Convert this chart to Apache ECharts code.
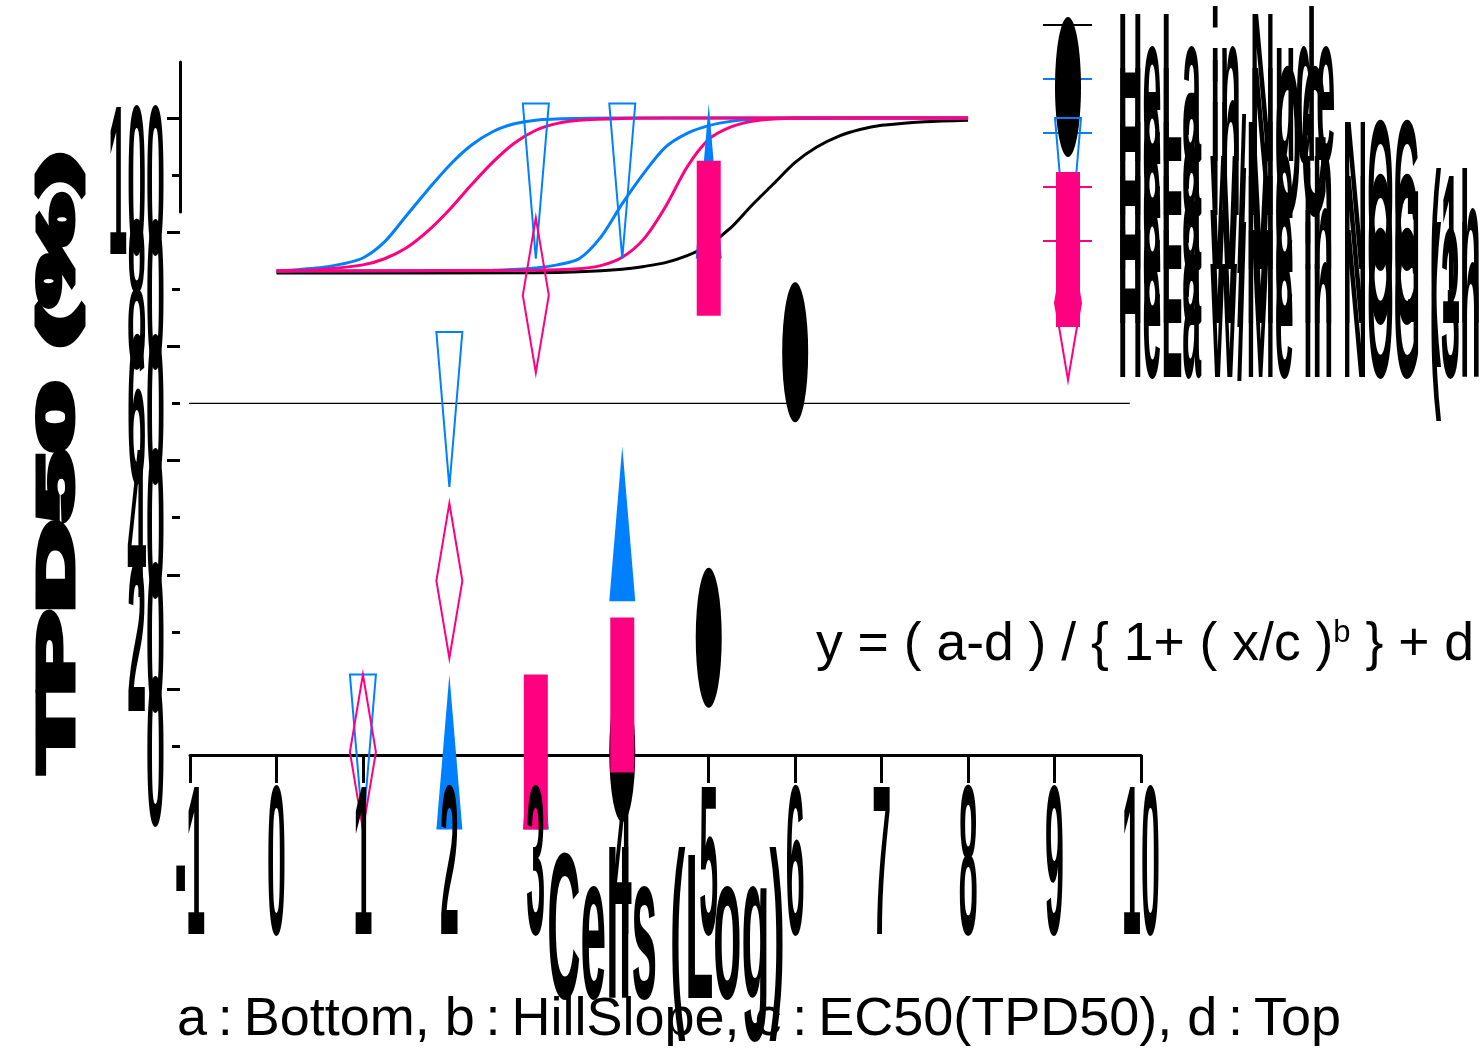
<!DOCTYPE html>
<html><head><meta charset="utf-8">
<script src="https://cdn.jsdelivr.net/npm/echarts@6/dist/echarts.min.js"></script>
<style>html,body{margin:0;padding:0;background:#fff}#c{width:1481px;height:1052px}</style>
</head><body><div id="c"></div>
<script>
// ---------- data ----------
const xTicks = [-1, 0, 1, 2, 3, 4, 5, 6, 7, 8, 9, 10];
const xTickLabels = ['-1', '0', '1', '2', '3', '4', '5', '6', '7', '8', '9', '10'];
const yTicks = [0, 20, 40, 60, 80, 100];
const yTickLabels = ['0', '20', '40', '60', '80', '100'];
const seriesNames = ['HeLa in Nude', 'HeLa in NOG', 'HeLa w/Me in NOG', 'HeLa w/Me in NOG (1hr)', 'HeLa w/Me in NOG (3hr)'];

// observed points (x = log cells, y = %)
const ptsCircle   = [[4, 0], [5, 20], [6, 70]];
const ptsUpTri    = [[2, 0], [3, 0], [4, 40], [5, 100]];
const ptsDownTri  = [[1, 0], [2, 60], [3, 100], [4, 100]];
const ptsSquare   = [[3, 0], [4, 10], [5, 90]];
const ptsDiamond  = [[1, 0], [2, 30], [3, 80]];

// fitted curves (x, %)
const fitCircle = [[0,-1.3],[3,-1.1],[3.5,-0.5],[4,1.2],[4.25,3],[4.5,5.5],[4.75,10],[5,17],[5.25,28],[5.5,43],[5.75,57],[6,71],[6.25,81],[6.5,88],[6.75,92.5],[7,95.2],[7.5,97.6],[8,98.6]];
const fitUpTri = [[0,0],[2.5,0.5],[3,2],[3.25,4],[3.5,8],[3.75,22],[4,44],[4.25,64],[4.5,81],[4.75,90],[5,95],[5.25,97.8],[5.5,99.2],[6,100],[8,100]];
const fitDownTri = [[0,0],[0.5,2.2],[0.75,4.5],[1,8.5],[1.25,19],[1.5,36],[1.75,53],[2,69],[2.25,82],[2.5,91],[2.75,96.2],[3,98.6],[3.5,99.7],[4,100],[8,100]];
const fitSquare = [[0,0],[3,0.5],[3.5,1.5],[3.75,3.5],[4,9],[4.25,21],[4.5,42],[4.75,68],[5,86],[5.25,94],[5.5,97.8],[5.75,99.3],[6,99.8],[8,100]];
const fitDiamond = [[0,0],[0.5,1],[1,4],[1.25,8],[1.5,15],[1.75,26],[2,40],[2.25,56],[2.5,71],[2.75,83.5],[3,92],[3.25,96.5],[3.5,98.5],[4,99.7],[4.5,100],[8,100]];

const refLine = [[-1.11, 60], [9.87, 60]];

const yTitle = 'TPD50 (%)';
const xTitle = 'Cells (Log)';
const formulaMain = 'y = ( a-d ) / { 1+ ( x/c )';
const formulaSup = 'b';
const formulaTail = ' } + d';
const paramText = 'a\u2009:\u2009Bottom, b\u2009:\u2009HillSlope, c\u2009:\u2009EC50(TPD50), d\u2009:\u2009Top';

// ---------- style ----------
const BLACK = '#000000', BLUE = '#0080FF', PINK = '#FF0080';
const FONT = '"Liberation Sans", Arial, sans-serif';
const SY = 6.3;
const MW = 13, MH = 77.5, MOFF = 6;   // marker half-width, half-height, vertical offset (px)

const chart = echarts.init(document.getElementById('c'), null, {renderer: 'canvas'});

const G = {left: 190, width: 951};
const hiddenX = (gi) => ({gridIndex: gi, type: 'value', min: -1, max: 10, interval: 1, show: false});

function xLabelItem(params, api) {
  const p = api.coord([api.value(0), api.value(1)]);
  return {type: 'text', x: p[0], y: p[1] + 129, scaleY: SY,
    style: {text: xTickLabels[params.dataIndex], font: 'bold 34px ' + FONT, fill: BLACK, align: 'center', verticalAlign: 'middle'}};
}
function yLabelItem(params, api) {
  const p = api.coord([api.value(0), api.value(1)]);
  return {type: 'text', x: p[0] - 25, y: p[1] + 20, scaleY: SY,
    style: {text: yTickLabels[params.dataIndex], font: 'bold 34px ' + FONT, fill: BLACK, align: 'right', verticalAlign: 'middle'}};
}
function downTriItem(params, api) {
  const p = api.coord([api.value(0), api.value(1)]);
  const cx = p[0], cy = p[1] + MOFF;
  return {type: 'polygon', shape: {points: [[cx - MW, cy - MH], [cx + MW, cy - MH], [cx, cy + MH]]},
    style: {fill: 'none', stroke: BLUE, lineWidth: 2, lineJoin: 'miter'}};
}
function diamondItem(params, api) {
  const p = api.coord([api.value(0), api.value(1)]);
  const cx = p[0], cy = p[1] + MOFF;
  return {type: 'polygon', shape: {points: [[cx, cy - MH], [cx + MW, cy], [cx, cy + MH], [cx - MW, cy]]},
    style: {fill: 'none', stroke: PINK, lineWidth: 2, lineJoin: 'miter'}};
}

const curveSeries = (data, color) => ({type: 'line', xAxisIndex: 1, yAxisIndex: 1, data, smooth: 0.3,
  showSymbol: false, symbol: 'none', clip: false, lineStyle: {color, width: 3}, z: 2, silent: true});

const scat = (name, data, symbol, size, color) => ({name, type: 'scatter', xAxisIndex: 0, yAxisIndex: 0, data,
  symbol, symbolSize: size, symbolOffset: [0, MOFF], itemStyle: {color, opacity: 1}, z: 5, silent: true,
  emphasis: {disabled: true}});
const openSeries = (name, data, renderItem) => ({name, type: 'custom', xAxisIndex: 0, yAxisIndex: 0, data, renderItem, z: 5, silent: true, clip: false});

const series = [
  {type: 'line', xAxisIndex: 0, yAxisIndex: 0, data: refLine, symbol: 'none', clip: false,
    lineStyle: {color: BLACK, width: 1.2}, z: 1, silent: true},
  curveSeries(fitCircle, BLACK),
  curveSeries(fitUpTri, BLUE),
  curveSeries(fitDownTri, BLUE),
  curveSeries(fitDiamond, PINK),
  curveSeries(fitSquare, PINK),
  scat(seriesNames[0], ptsCircle, 'circle', [26, 140], BLACK),
  scat(seriesNames[1], ptsUpTri, 'triangle', [26, 155], BLUE),
  openSeries(seriesNames[2], ptsDownTri, downTriItem),
  scat(seriesNames[3], ptsSquare, 'rect', [24, 155], PINK),
  openSeries(seriesNames[4], ptsDiamond, diamondItem),
  {type: 'custom', xAxisIndex: 0, yAxisIndex: 0, data: xTicks.map(v => [v, 0]), renderItem: xLabelItem, z: 6, silent: true, clip: false},
  {type: 'custom', xAxisIndex: 0, yAxisIndex: 0, data: yTicks.map(v => [-1, v]), renderItem: yLabelItem, z: 6, silent: true, clip: false}
];

// legend (layout only)
const legendColors = [BLACK, BLUE, BLUE, PINK, PINK];
const graphic = [];
for (let k = 0; k < 5; k++) {
  const ly = 25 + 54 * k;
  graphic.push({type: 'line', shape: {x1: 1043, y1: ly, x2: 1092, y2: ly}, style: {stroke: legendColors[k], lineWidth: 2.2}, z: 10});
}
const mcx = 1068;
const mcy = (k) => 25 + 54 * k + 62;
graphic.push({type: 'ellipse', shape: {cx: mcx, cy: mcy(0), rx: 13, ry: 70}, style: {fill: BLACK}, z: 11});
graphic.push({type: 'polygon', shape: {points: [[mcx - 13, mcy(2) - 77], [mcx + 13, mcy(2) - 77], [mcx, mcy(2) + 77]]}, style: {fill: 'none', stroke: BLUE, lineWidth: 2}, z: 11});
graphic.push({type: 'rect', shape: {x: mcx - 12, y: mcy(3) - 77, width: 24, height: 155}, style: {fill: PINK}, z: 11});
graphic.push({type: 'polygon', shape: {points: [[mcx, mcy(4) - 77], [mcx + 13, mcy(4)], [mcx, mcy(4) + 77], [mcx - 13, mcy(4)]]}, style: {fill: 'none', stroke: PINK, lineWidth: 2}, z: 11});
for (let k = 0; k < 5; k++) {
  graphic.push({type: 'text', x: 1118, y: 102 + 54 * k, scaleY: SY, z: 12,
    style: {text: seriesNames[k], font: 'bold 34px ' + FONT, fill: BLACK, align: 'left', verticalAlign: 'middle'}});
}
// titles and annotations
graphic.push({type: 'text', x: 666, y: 941, scaleY: 4.5, z: 12,
  style: {text: xTitle, font: 'bold 46px ' + FONT, fill: BLACK, align: 'center', verticalAlign: 'middle'}});
graphic.push({type: 'text', x: 59, y: 462, rotation: Math.PI / 2, scaleX: 2.5, z: 12,
  style: {text: yTitle, font: 'bold 50px ' + FONT, fill: BLACK, stroke: BLACK, lineWidth: 5, lineJoin: 'round', align: 'center', verticalAlign: 'middle'}});
graphic.push({type: 'text', x: 816, y: 645, z: 12,
  style: {text: formulaMain + '{s|' + formulaSup + '}' + formulaTail, font: '53.5px ' + FONT, fill: BLACK, align: 'left', verticalAlign: 'middle',
    rich: {s: {font: '31px ' + FONT, fill: BLACK, verticalAlign: 'top'}}}});
graphic.push({type: 'text', x: 759, y: 1020, z: 12,
  style: {text: paramText, font: '54px ' + FONT, fill: BLACK, align: 'center', verticalAlign: 'middle'}});

const option = {
  animation: false,
  backgroundColor: '#fff',
  grid: [
    {left: G.left, width: G.width, top: 118, height: 628},
    {left: G.left, width: G.width, top: 118, height: 153},
    {left: G.left, width: G.width, top: 118, height: 571},
    {left: G.left, width: G.width, top: 62, height: 150}
  ],
  xAxis: [
    {gridIndex: 0, type: 'value', min: -1, max: 10, interval: 1, offset: 9,
      axisLine: {show: true, onZero: false, lineStyle: {color: BLACK, width: 3}},
      axisTick: {show: true, length: 28, lineStyle: {color: BLACK, width: 3}},
      axisLabel: {show: false}, splitLine: {show: false}},
    hiddenX(1), hiddenX(2), hiddenX(3)
  ],
  yAxis: [
    {gridIndex: 0, type: 'value', min: 0, max: 110, interval: 20, offset: 10,
      axisLine: {show: false, onZero: false}, axisTick: {show: true, length: 8, lineStyle: {color: BLACK, width: 3}},
      axisLabel: {show: false}, splitLine: {show: false}},
    {gridIndex: 1, type: 'value', min: 0, max: 100, show: false},
    {gridIndex: 2, type: 'value', min: 10, max: 110, interval: 20, offset: 10,
      axisLine: {show: false, onZero: false}, axisTick: {show: true, length: 13, lineStyle: {color: BLACK, width: 3}},
      axisLabel: {show: false}, splitLine: {show: false}},
    {gridIndex: 3, type: 'value', min: 0, max: 100, offset: 10,
      axisLine: {show: true, onZero: false, lineStyle: {color: BLACK, width: 3}}, axisTick: {show: false},
      axisLabel: {show: false}, splitLine: {show: false}}
  ],
  series,
  graphic
};
chart.setOption(option);
</script></body></html>
